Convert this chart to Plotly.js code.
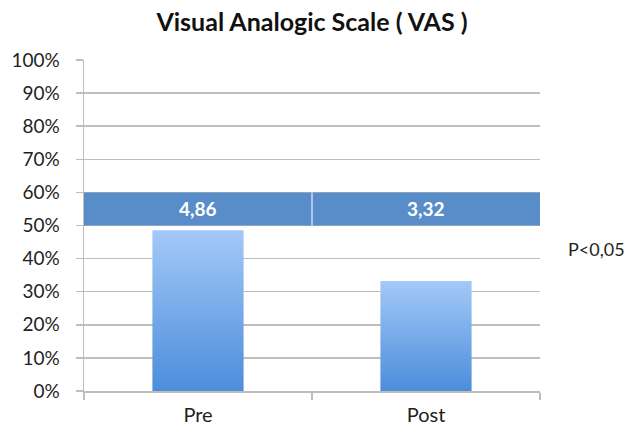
<!DOCTYPE html>
<html>
<head>
<meta charset="utf-8">
<script src="https://cdn.plot.ly/plotly-3.0.1.min.js"></script>
<style>
html,body{margin:0;padding:0;background:#fff;}
#chart{width:629px;height:435px;}
</style>
</head>
<body>
<div id="chart"></div>
<script>
// ---- data ----
var categories = ['Pre', 'Post'];
var vasPercent = [48.6, 33.2];
var tableLabels = ['4,86', '3,32'];
var yTickVals = [0, 10, 20, 30, 40, 50, 60, 70, 80, 90, 100];
var yTickText = ['0%', '10%', '20%', '30%', '40%', '50%', '60%', '70%', '80%', '90%', '100%'];
var pValueText = 'P<0,05';
var chartTitle = 'Visual Analogic Scale ( VAS )';

// ---- layout constants ----
var BAND_LOW = 50, BAND_HIGH = 60;
var FONT = 'Lato, "Open Sans", sans-serif';
var GRID = 'rgb(190,190,190)';
var BAND_COLOR = 'rgb(88,141,201)';
var TXT = '#1f1f1f';

var trace = {
  type: 'bar',
  x: categories,
  y: vasPercent,
  width: 0.4,
  marker: {color: 'rgb(120,170,232)', line: {width: 0}},
  hoverinfo: 'none'
};

var annotations = categories.map(function (c, i) {
  return {
    x: c, y: (BAND_LOW + BAND_HIGH) / 2, xref: 'x', yref: 'y',
    text: '<b>' + tableLabels[i] + '</b>', showarrow: false,
    font: {family: FONT, size: 19, color: '#ffffff'},
    xanchor: 'center', yanchor: 'middle'
  };
});
annotations.push({
  x: 1.19, y: 43, xref: 'paper', yref: 'y',
  text: pValueText, showarrow: false,
  font: {family: FONT, size: 18, color: TXT},
  xanchor: 'right', yanchor: 'middle'
});

var layout = {
  width: 629, height: 435,
  margin: {l: 84, r: 89, t: 60, b: 44},
  paper_bgcolor: '#ffffff', plot_bgcolor: '#ffffff',
  showlegend: false,
  title: {
    text: '<b>' + chartTitle + '</b>',
    font: {family: FONT, size: 25, color: '#111111'},
    x: 0.5, xanchor: 'center', y: 0.948, yanchor: 'middle', xref: 'paper'
  },
  xaxis: {
    type: 'category',
    showgrid: false,
    showline: true, linecolor: GRID, linewidth: 1.5,
    ticks: 'outside', tickson: 'boundaries', ticklen: 7, tickcolor: GRID, tickwidth: 1.5,
    tickfont: {family: FONT, size: 20, color: TXT},
    ticklabelstandoff: 5,
    fixedrange: true
  },
  yaxis: {
    range: [0, 100],
    tickvals: yTickVals, ticktext: yTickText,
    showgrid: true, gridcolor: GRID, gridwidth: 1.5,
    zeroline: false,
    showline: true, linecolor: GRID, linewidth: 1.5,
    ticks: 'outside', ticklen: 7, tickcolor: GRID, tickwidth: 1.5,
    tickfont: {family: FONT, size: 19, color: TXT},
    ticklabelstandoff: 12,
    fixedrange: true
  },
  shapes: [
    {type: 'rect', xref: 'paper', yref: 'y', x0: 0, x1: 1, y0: BAND_LOW, y1: BAND_HIGH,
     fillcolor: BAND_COLOR, line: {width: 0}, layer: 'above'},
    {type: 'line', xref: 'paper', yref: 'y', x0: 0.5, x1: 0.5, y0: BAND_LOW, y1: BAND_HIGH,
     line: {color: 'rgb(200,220,245)', width: 1.5}, layer: 'above'}
  ],
  annotations: annotations
};

Plotly.newPlot('chart', [trace], layout, {displayModeBar: false, staticPlot: true}).then(function (gd) {
  var svg = gd.querySelector('svg.main-svg');
  var ns = 'http://www.w3.org/2000/svg';
  var defs = svg.querySelector('defs') || svg.insertBefore(document.createElementNS(ns, 'defs'), svg.firstChild);
  var grad = document.createElementNS(ns, 'linearGradient');
  grad.setAttribute('id', 'vasBarGrad');
  grad.setAttribute('x1', '0'); grad.setAttribute('y1', '0');
  grad.setAttribute('x2', '0'); grad.setAttribute('y2', '1');
  [['0%', 'rgb(163,201,247)'], ['100%', 'rgb(76,141,219)']].forEach(function (s) {
    var st = document.createElementNS(ns, 'stop');
    st.setAttribute('offset', s[0]);
    st.setAttribute('stop-color', s[1]);
    grad.appendChild(st);
  });
  defs.appendChild(grad);
  gd.querySelectorAll('.bars .point path').forEach(function (p) {
    p.style.fill = 'url(#vasBarGrad)';
  });
});
</script>
</body>
</html>
